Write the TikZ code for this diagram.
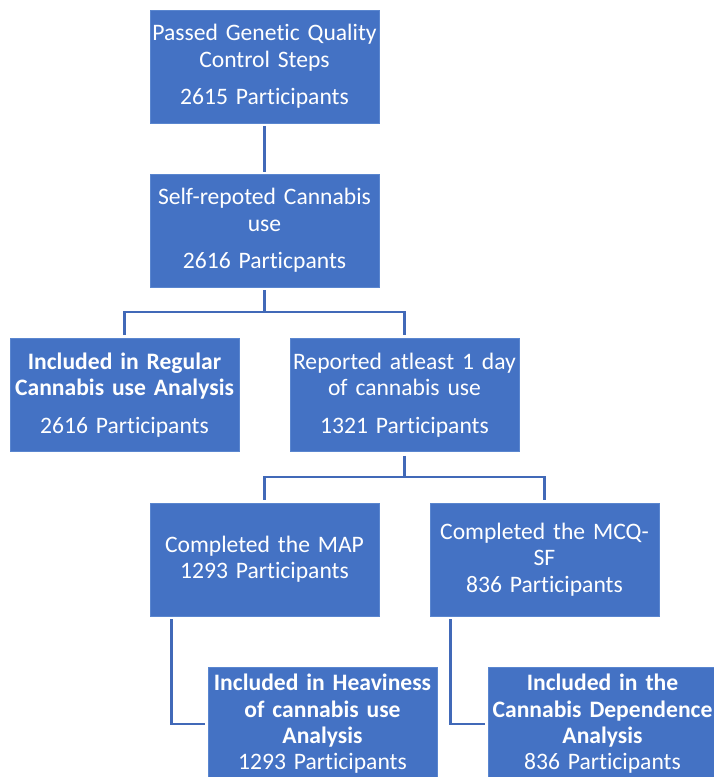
\documentclass[tikz,border=0pt]{standalone}
\usepackage{fontspec}
\setmainfont[Ligatures={NoCommon}]{Carlito}
\definecolor{boxblue}{HTML}{4472C4}
\definecolor{lineblue}{HTML}{4169B8}
\definecolor{edgeblue}{HTML}{5A86CF}
\begin{document}
\begin{tikzpicture}[x=1pt,y=-1pt,
  box/.style={fill=boxblue, draw=edgeblue, line width=0.8pt, minimum width=229pt, minimum height=113pt,
    text=white, align=center, text width=227pt, inner sep=0pt,
    font=\fontsize{23.6}{26.3}\selectfont},
  conn/.style={draw=lineblue, line width=2.6pt}]
\useasboundingbox (0,0) rectangle (714,777);
\node[box] (b1) at (264.5,66.5) {Passed Genetic Quality\\Control Steps\\[11pt]2615 Participants};
\node[box] (b2) at (264.5,230.5) {Self-repoted Cannabis\\use\\[11pt]2616 Particpants};
\node[box] (b3) at (124.5,395) {\textbf{Included in Regular}\\\textbf{Cannabis use Analysis}\\[11pt]2616 Participants};
\node[box] (b4) at (404.5,395) {Reported atleast 1 day\\of cannabis use\\[11pt]1321 Participants};
\node[box] (b5) at (264.5,559.5) {Completed the MAP\\1293 Participants};
\node[box] (b6) at (544.5,559.5) {Completed the MCQ-\\SF\\836 Participants};
\node[box, anchor=north] (b7) at (322.5,667) {\textbf{Included in Heaviness}\\\textbf{of cannabis use}\\\textbf{Analysis}\\1293 Participants};
\node[box, anchor=north] (b8) at (602.5,667) {\textbf{Included in the}\\\textbf{Cannabis Dependence}\\\textbf{Analysis}\\836 Participants};
\coordinate (j1) at (264.5,312);
\coordinate (j2) at (404.5,477);
\draw[conn] ([yshift=-3pt]b1.south) -- ([yshift=2pt]b2.north);
\draw[conn] ([yshift=-3pt]b2.south) -- (j1);
\draw[conn] ([yshift=3pt]b3.north) |- (j1) -| ([yshift=3pt]b4.north);
\draw[conn] ([yshift=-4pt]b4.south) -- (j2);
\draw[conn] ([yshift=3pt]b5.north) |- (j2) -| ([yshift=3pt]b6.north);
\draw[conn] ([shift={(22,3)}]b5.south west) |- ([xshift=-3pt]b7.west);
\draw[conn] ([shift={(21,3)}]b6.south west) |- ([xshift=-3pt]b8.west);
\end{tikzpicture}
\end{document}
